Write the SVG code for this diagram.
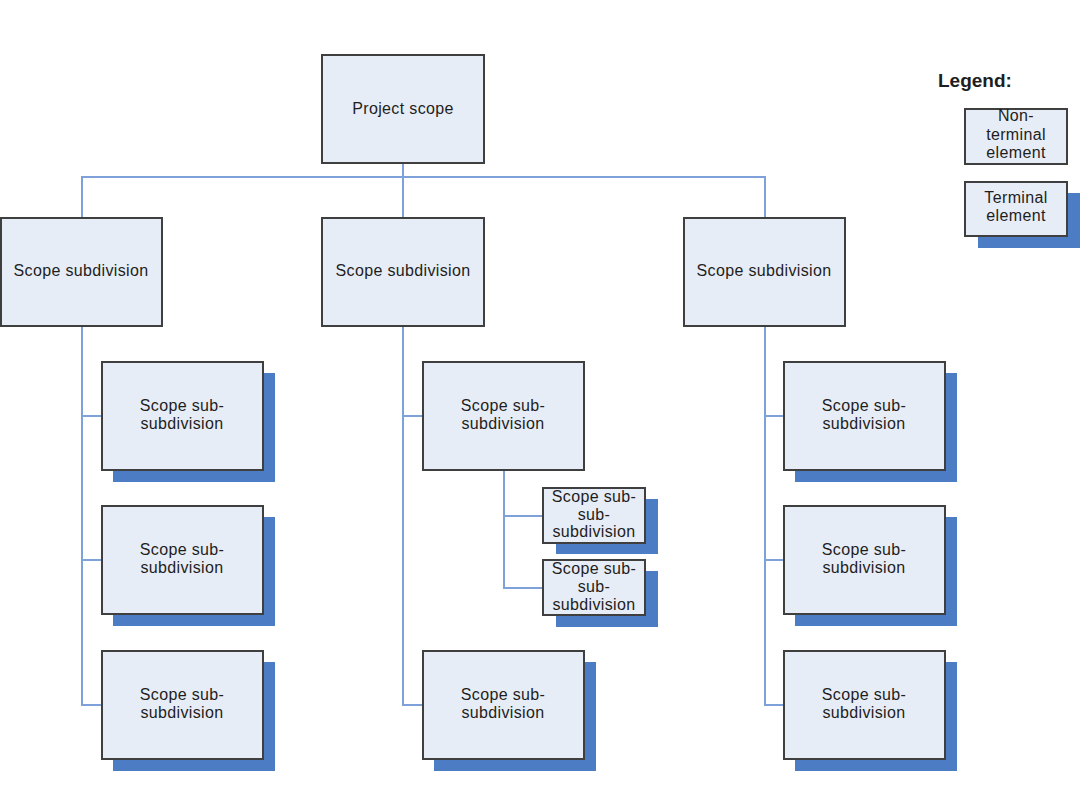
<svg xmlns="http://www.w3.org/2000/svg" width="1080" height="810" viewBox="0 0 1080 810">
<style>
.box{fill:#e7edf6;stroke:#3f3f3f;stroke-width:2}
.sh{fill:#4b7cc4}
.t{font-family:"Liberation Sans",Arial,sans-serif;font-size:16px;letter-spacing:0.35px;fill:#1e1e1e;text-anchor:middle}
.lg{font-family:"Liberation Sans",Arial,sans-serif;font-size:19px;font-weight:bold;fill:#1e1e1e}
.c{fill:none;stroke:#7da1d8;stroke-width:2}
</style>
<rect width="1080" height="810" fill="#ffffff"/>
<g id="connectors">
<path class="c" d="M403,163V218M82,218V177H765V218"/>
<path class="c" d="M82,326V705H102M82,416H102M82,560H102"/>
<path class="c" d="M403,326V705H423M403,416H423"/>
<path class="c" d="M504,470V588H543M504,516H543"/>
<path class="c" d="M765,326V705H784M765,416H784M765,560H784"/>
</g>
<g id="root"><rect class="box" x="322" y="55" width="162" height="108"/><text class="t" x="403" y="114">Project scope</text></g>
<g id="subL"><rect class="box" x="1" y="218" width="161" height="108"/><text class="t" x="81" y="276">Scope subdivision</text></g>
<g id="subM"><rect class="box" x="322" y="218" width="162" height="108"/><text class="t" x="403" y="276">Scope subdivision</text></g>
<g id="subR"><rect class="box" x="684" y="218" width="161" height="108"/><text class="t" x="764" y="276">Scope subdivision</text></g>
<g id="L1"><rect class="sh" x="113" y="373" width="162" height="109"/><rect class="box" x="102" y="362" width="161" height="108"/><text class="t" x="182" y="411">Scope sub-</text><text class="t" x="182" y="429">subdivision</text></g>
<g id="L2"><rect class="sh" x="113" y="517" width="162" height="109"/><rect class="box" x="102" y="506" width="161" height="108"/><text class="t" x="182" y="555">Scope sub-</text><text class="t" x="182" y="573">subdivision</text></g>
<g id="L3"><rect class="sh" x="113" y="662" width="162" height="109"/><rect class="box" x="102" y="651" width="161" height="108"/><text class="t" x="182" y="700">Scope sub-</text><text class="t" x="182" y="718">subdivision</text></g>
<g id="M1"><rect class="box" x="423" y="362" width="161" height="108"/><text class="t" x="503" y="411">Scope sub-</text><text class="t" x="503" y="429">subdivision</text></g>
<g id="M2"><rect class="sh" x="434" y="662" width="162" height="109"/><rect class="box" x="423" y="651" width="161" height="108"/><text class="t" x="503" y="700">Scope sub-</text><text class="t" x="503" y="718">subdivision</text></g>
<g id="S1"><rect class="sh" x="556" y="499" width="102" height="55"/><rect class="box" x="543" y="488" width="102" height="55"/><text class="t" x="594" y="502">Scope sub-</text><text class="t" x="594" y="520">sub-</text><text class="t" x="594" y="537">subdivision</text></g>
<g id="S2"><rect class="sh" x="556" y="571" width="102" height="56"/><rect class="box" x="543" y="560" width="102" height="55"/><text class="t" x="594" y="574">Scope sub-</text><text class="t" x="594" y="592">sub-</text><text class="t" x="594" y="610">subdivision</text></g>
<g id="R1"><rect class="sh" x="795" y="373" width="162" height="109"/><rect class="box" x="784" y="362" width="161" height="108"/><text class="t" x="864" y="411">Scope sub-</text><text class="t" x="864" y="429">subdivision</text></g>
<g id="R2"><rect class="sh" x="795" y="517" width="162" height="109"/><rect class="box" x="784" y="506" width="161" height="108"/><text class="t" x="864" y="555">Scope sub-</text><text class="t" x="864" y="573">subdivision</text></g>
<g id="R3"><rect class="sh" x="795" y="662" width="162" height="109"/><rect class="box" x="784" y="651" width="161" height="108"/><text class="t" x="864" y="700">Scope sub-</text><text class="t" x="864" y="718">subdivision</text></g>
<g id="legend">
<text class="lg" x="938" y="87">Legend:</text>
<rect class="box" x="965" y="109" width="102" height="55"/>
<text class="t" x="1016" y="121">Non-</text><text class="t" x="1016" y="140">terminal</text><text class="t" x="1016" y="158">element</text>
<rect class="sh" x="978" y="193" width="102" height="55"/>
<rect class="box" x="965" y="182" width="102" height="54"/>
<text class="t" x="1016" y="203">Terminal</text><text class="t" x="1016" y="221">element</text>
</g>
</svg>
